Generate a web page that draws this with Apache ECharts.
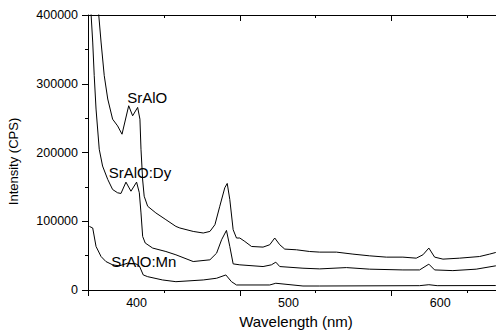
<!DOCTYPE html>
<html>
<head>
<meta charset="utf-8">
<script src="https://cdn.jsdelivr.net/npm/echarts@6/dist/echarts.min.js"></script>
<style>
  html, body { margin: 0; padding: 0; background: #fff; }
  #chart { width: 496px; height: 331px; }
</style>
</head>
<body>
<div id="chart"></div>
<script>
// wavelength (nm) / intensity (CPS)
const srAlONm = [374.5, 375.0, 376.6, 378.7, 381.0, 384.2, 387.5, 390.4, 394.8, 397.4, 400.7, 402.2, 402.9, 404.0, 405.0, 407.3, 412.7, 419.3, 425.9, 428.5, 437.3, 443.9, 448.3, 451.6, 454.8, 458.1, 459.7, 461.4, 463.6, 465.8, 468.0, 471.3, 475.7, 483.3, 487.7, 491.0, 494.3, 497.6, 505.3, 514.0, 520.6, 531.6, 542.5, 553.5, 564.5, 575.4, 584.2, 588.6, 592.5, 596.3, 601.8, 612.7, 625.9, 632.5, 636.4, 642];
const srAlOCps = [420000, 402000, 360700, 311800, 277800, 248500, 238700, 226600, 268000, 253400, 265600, 248500, 204700, 160000, 136400, 121800, 112100, 102300, 92500, 90200, 85200, 82900, 85200, 95000, 121800, 148700, 155000, 131600, 87700, 75600, 75600, 70600, 63300, 62400, 65800, 75600, 65800, 59500, 58500, 56000, 55100, 55100, 52200, 49700, 47800, 47800, 46300, 51200, 61000, 47800, 44900, 46300, 48700, 52200, 54500, 56000];

const dyNm = [369.8, 370.0, 371.1, 372.1, 373.3, 375.4, 377.6, 381.0, 384.2, 387.5, 389.7, 393.0, 396.3, 400.0, 401.8, 402.9, 404.0, 405.7, 410.6, 419.3, 425.9, 437.3, 448.3, 452.7, 456.0, 459.2, 461.4, 463.6, 468.0, 483.3, 488.8, 491.7, 494.3, 509.6, 520.6, 538.2, 553.5, 575.4, 586.4, 592.5, 596.3, 608.3, 623.7, 636.4, 642];
const dyCps = [420000, 402000, 360700, 311800, 263200, 204700, 180300, 160800, 146200, 141400, 140400, 156900, 143700, 156900, 141400, 112100, 77900, 68300, 61000, 56000, 51200, 41400, 43900, 53600, 73100, 86700, 63300, 38000, 36600, 34100, 36600, 40500, 34100, 31700, 30700, 32600, 30300, 29200, 29200, 37600, 29200, 28200, 30300, 35100, 37000];

const mnNm = [368.9, 371.1, 373.3, 376.6, 379.8, 384.2, 388.6, 394.1, 399.6, 401.8, 404.4, 407.3, 417.1, 425.9, 443.9, 452.7, 458.8, 462.5, 465.8, 487.7, 491.7, 509.6, 520.6, 586.4, 592.5, 598.0, 636.4, 642];
const mnCps = [92500, 90200, 63300, 48700, 41400, 36600, 35100, 39000, 38000, 35100, 21900, 19400, 14600, 12100, 14600, 17100, 21900, 12100, 7300, 7300, 9800, 5800, 5800, 6300, 7700, 6300, 6500, 6500];

const seriesNames = ["SrAlO", "SrAlO:Dy", "SrAlO:Mn"];
const labelNm = [407.0, 402.2, 404.8];
const labelCps = [280700, 170600, 41400];

const xTickLabels = [400, 500, 600];
const yTicks = { min: 0, max: 400000, interval: 100000 };

const pairs = (xs, ys) => xs.map((x, i) => [x, ys[i]]);
const FONT = "Liberation Sans, Arial, sans-serif";

const chart = echarts.init(document.getElementById("chart"), null, { renderer: "svg" });

function lineSeries(name, data, idx) {
  return {
    type: "line",
    name: name,
    data: data,
    showSymbol: false,
    clip: true,
    silent: true,
    lineStyle: { color: "#000", width: 1 },
    markPoint: {
      symbol: "circle",
      symbolSize: 0,
      silent: true,
      label: {
        show: true,
        position: "inside",
        formatter: name,
        color: "#000",
        fontFamily: FONT,
        fontSize: 15
      },
      data: [{ coord: [labelNm[idx], labelCps[idx]] }]
    }
  };
}

const axisLineStyle = { lineStyle: { color: "#000", width: 1 } };

chart.setOption({
  animation: false,
  backgroundColor: "#fff",
  grid: { left: 88, top: 15, bottom: 41, right: -8, containLabel: false, outerBoundsMode: "none" },
  xAxis: [
    {
      type: "value",
      min: 368,
      max: 642,
      interval: 100,
      position: "bottom",
      name: "Wavelength (nm)",
      nameLocation: "middle",
      nameGap: 23,
      nameTextStyle: { color: "#000", fontFamily: FONT, fontSize: 15 },
      axisLine: axisLineStyle,
      axisTick: { show: true, inside: false, length: 6, lineStyle: { color: "#000" } },
      minorTick: { show: true, splitNumber: 2, length: 3, lineStyle: { color: "#000" } },
      axisLabel: {
        color: "#000", fontFamily: FONT, fontSize: 12.5, margin: 6,
        customValues: xTickLabels
      },
      splitLine: { show: false },
      minorSplitLine: { show: false }
    },
    {
      type: "value",
      min: 368,
      max: 642,
      interval: 100,
      position: "top",
      axisLine: axisLineStyle,
      axisTick: { show: true, inside: true, length: 6, lineStyle: { color: "#000" } },
      minorTick: { show: true, splitNumber: 2, length: 3, lineStyle: { color: "#000" } },
      axisLabel: { show: false },
      splitLine: { show: false }
    }
  ],
  yAxis: {
    type: "value",
    min: yTicks.min,
    max: yTicks.max,
    interval: yTicks.interval,
    name: "Intensity (CPS)",
    nameLocation: "middle",
    nameGap: 68,
    nameRotate: 90,
    nameTextStyle: { color: "#000", fontFamily: FONT, fontSize: 13, padding: [0, 18, 0, 0] },
    axisLine: { show: true, lineStyle: { color: "#000", width: 1 } },
    axisTick: { show: true, inside: false, length: 6, lineStyle: { color: "#000" } },
    minorTick: { show: true, splitNumber: 2, length: 3, lineStyle: { color: "#000" } },
    axisLabel: {
      color: "#000", fontFamily: FONT, fontSize: 12.5, margin: 10,
      formatter: (v) => String(v)
    },
    splitLine: { show: false }
  },
  series: [
    lineSeries(seriesNames[0], pairs(srAlONm, srAlOCps), 0),
    lineSeries(seriesNames[1], pairs(dyNm, dyCps), 1),
    lineSeries(seriesNames[2], pairs(mnNm, mnCps), 2)
  ]
});
</script>
</body>
</html>
